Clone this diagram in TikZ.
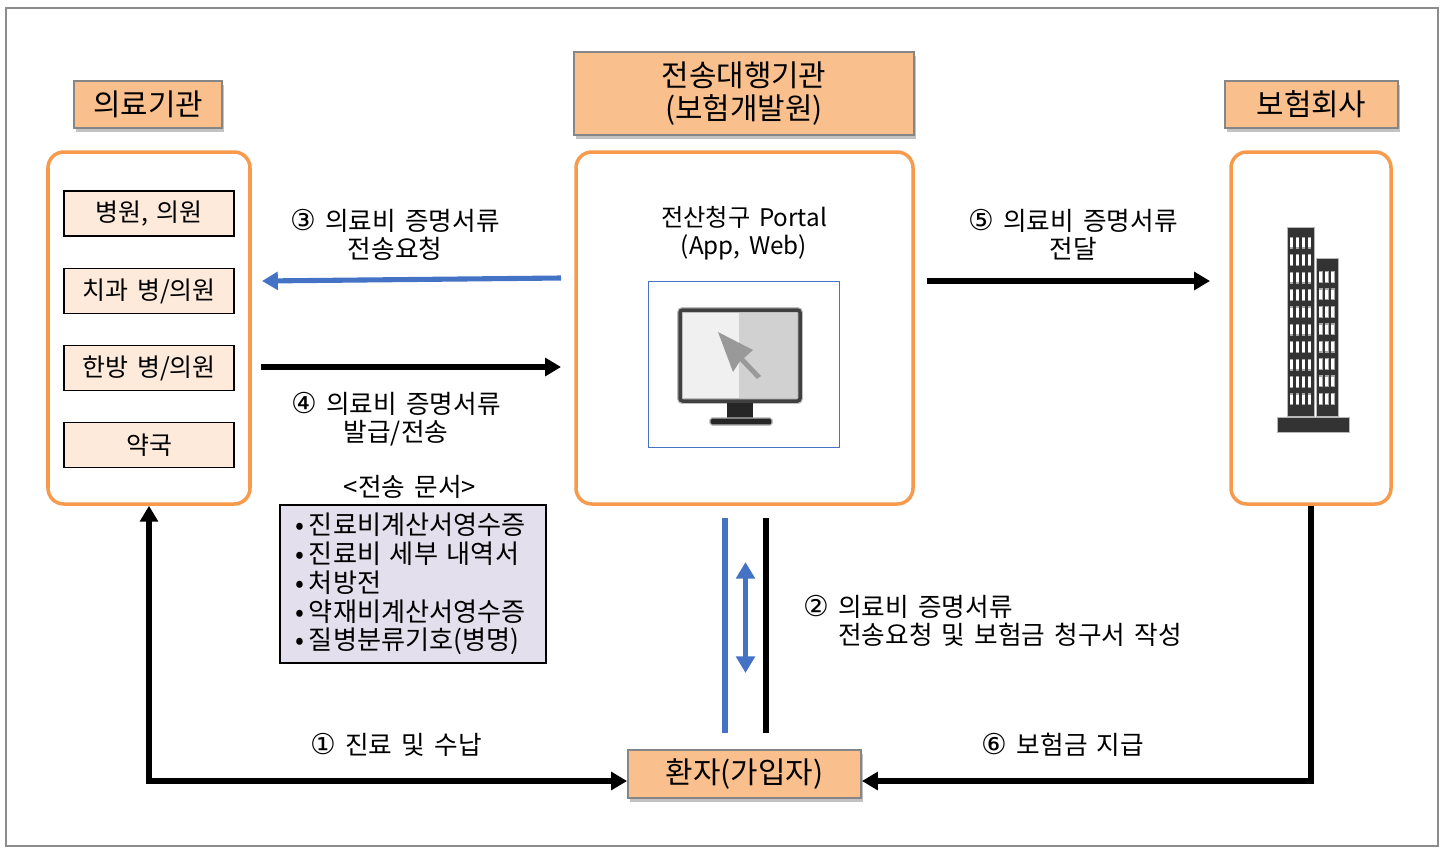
\documentclass[tikz,border=0pt]{standalone}
\usepackage{fontspec}
\setmainfont{Noto Sans CJK KR}[WordSpace=1.6]
\newfontfamily\circfont{DejaVu Sans}[Scale=1.12]
\usepackage{xcolor}
\usetikzlibrary{arrows.meta,calc,shadows,positioning}
\definecolor{headfill}{HTML}{F9C08E}
\definecolor{bandorange}{HTML}{F79A4B}
\definecolor{clinicfill}{HTML}{FDEADA}
\definecolor{docfill}{HTML}{E4DFEC}
\definecolor{flowblue}{HTML}{4472C4}
\newcommand{\stepno}[1]{{\circfont #1}}
\newcommand{\docitem}{•\hspace{2.9pt}}

\begin{document}
\begin{tikzpicture}[
  x=0.02cm, y=-0.02cm,
  head/.style={draw=gray!95, fill=headfill, line width=1.1pt, align=center,
               inner sep=0pt, font=\fontsize{17}{19.6}\selectfont,
               drop shadow={shadow xshift=1.4pt, shadow yshift=-2pt, opacity=0.4, fill=black!60}},
  band/.style={draw=bandorange, fill=white, line width=2pt, rounded corners=9pt,
               inner sep=0pt},
  clinic/.style={draw=black, fill=clinicfill, line width=0.8pt, inner sep=0pt,
                 minimum width=170*0.02cm, minimum height=45*0.02cm,
                 font=\fontsize{14.2}{16}\selectfont},
  note/.style={align=center, inner sep=0pt, font=\fontsize{14.6}{15.9}\selectfont},
  flow/.style={line width=2.9pt, -{Triangle[length=9pt,width=10pt]}},
  pipe/.style={line width=2.9pt},
  >=Stealth
]
\useasboundingbox (0,0) rectangle (1443,853);

% Outer frame
\node[draw=gray!90, line width=0.9pt, minimum width=1432*0.02cm, minimum height=838*0.02cm,
      inner sep=0pt] (frame) at (722,427) {};

% Header labels
\node[head, minimum width=148*0.02cm, minimum height=47*0.02cm] (clinichead) at (148,104.5) {의료기관};
\node[head, minimum width=340*0.02cm, minimum height=83*0.02cm] (agencyhead) at (744,93.5) {\raisebox{-1pt}{전송대행기관}\\(보험개발원)};
\node[head, minimum width=173*0.02cm, minimum height=47*0.02cm] (insurerhead) at (1311.5,104.5) {보험회사};
\node[head, minimum width=233*0.02cm, minimum height=48*0.02cm] (patient) at (744.5,774) {\raisebox{-1pt}{환자(가입자)}};

% Orange panels
\node[band, minimum width=202*0.02cm, minimum height=352*0.02cm] (clinicband) at (149,328) {};
\node[band, minimum width=337*0.02cm, minimum height=352*0.02cm] (portal) at (744.5,328) {};
\node[band, minimum width=160*0.02cm, minimum height=352*0.02cm] (insurer) at (1311,328) {};

% Clinic types
\node[clinic] (hospital) at (149,213.5) {병원, 의원};
\node[clinic] (dental)   at (149,291)   {치과 병/의원};
\node[clinic] (oriental) at (149,368)   {한방 병/의원};
\node[clinic] (pharmacy) at (149,445)   {약국};

% Portal text and picture box
\node[note, font=\fontsize{13.8}{16.2}\selectfont] (portaltext) at (744,233) {전산청구 Portal\\(App, Web)};
\node[draw=flowblue, line width=0.4pt, minimum width=191*0.02cm, minimum height=166*0.02cm,
      inner sep=0pt] (screenbox) at (744,364) {};

% Monitor icon
\fill[black!6]  (680,310) rectangle (739,401);
\fill[black!18] (739,310) rectangle (800,401);
\draw[black!25, line width=3.4pt, rounded corners=1.5pt] (680,310) rectangle (800,401);
\draw[black!75, line width=2pt, rounded corners=1.5pt] (680,310) rectangle (800,401);
\fill[black!85] (727,403) rectangle (753,418);
\draw[black!30, line width=0.6pt, fill=black!85, rounded corners=1pt] (710,418) rectangle (772,425);
\fill[black!40] (718,332) -- (753,350) -- (744,358) -- (761,376) -- (757,379) -- (740,361) -- (733,372) -- cycle;

% Building icon
\foreach \x/\y/\u/\v in {1288/228/1314/416, 1317/259/1338/416, 1278/418/1349/432}{
  \draw[black!80, draw opacity=0.35, line width=0.8pt, fill=black!80] (\x,\y) rectangle (\u,\v);
}
\foreach \row in {0,...,9}{
  \foreach \col in {0,...,3}{
    \fill[black!35] ({1289.6+6*\col},{236.7+17.4*\row}) rectangle ({1293.4+6*\col},{248.7+17.4*\row});
    \fill[white] ({1290.2+6*\col},{238+17.4*\row}) rectangle ({1292.8+6*\col},{247.4+17.4*\row});
  }
}
\foreach \row in {2,...,9}{
  \foreach \col in {0,...,2}{
    \fill[black!35] ({1318.8+6*\col},{236.2+17.4*\row}) rectangle ({1322.6+6*\col},{248.2+17.4*\row});
    \fill[white] ({1319.4+6*\col},{237.5+17.4*\row}) rectangle ({1322+6*\col},{246.9+17.4*\row});
  }
}

% Document list
\node[note] (doctitle) at (410,487) {<전송 문서>};
\node[draw=black, fill=docfill, line width=1.1pt, minimum height=158*0.02cm,
      inner ysep=0pt, inner xsep=15*0.02cm, align=left, text width=236*0.02cm,
      font=\fontsize{14.9}{16.4}\selectfont] (doclist) at (413,584)
  {\docitem 진료비계산서영수증\\\docitem 진료비 세부 내역서\\\docitem 처방전\\\docitem 약재비계산서영수증\\\docitem 질병분류기호(병명)};

% Free ends of the short arrows
\coordinate (askstart) at (561,278);
\coordinate (askend) at (262,281);
\coordinate (sendstart) at (261,367);
\coordinate (sendend) at (561,367);
\coordinate (passstart) at (927,281);
\coordinate (passend) at (1210,281);

\draw[flow, draw=flowblue] (askstart) -- (askend);
\draw[flow] (sendstart) -- (sendend);
\draw[flow] (passstart) -- (passend);

% Between portal and patient
\coordinate (bluetop) at (725,518);
\coordinate (bluebot) at (725,733);
\coordinate (blacktop) at (766,518);
\coordinate (blackbot) at (766,733);
\coordinate (swaptop) at (745.5,562);
\coordinate (swapbot) at (745.5,673);
\draw[pipe, draw=flowblue] (bluetop) -- (bluebot);
\draw[pipe] (blacktop) -- (blackbot);
\draw[line width=2.9pt, draw=flowblue, {Triangle[length=9.5pt,width=10.5pt]}-{Triangle[length=9.5pt,width=10.5pt]}] (swaptop) -- (swapbot);

% Long paths to the patient
\draw[flow, {Triangle[length=9pt,width=10pt]}-{Triangle[length=9pt,width=10pt]}]
  (clinicband.south) |- ($(patient.west)+(0,7)$);
\draw[flow] (insurer.south) |- ($(patient.east)+(0,7)$);

% Step labels
\node[note] (stepthree) at (395,235) {\stepno{③} 의료비 증명서류\\전송요청};
\node[note] (stepfour)  at (396,419.5) {\stepno{④} 의료비 증명서류\\발급/전송};
\node[note] (stepfive)  at (1073,235) {\stepno{⑤} 의료비 증명서류\\전달};
\node[note, align=left, anchor=west] (steptwo) at (803,621) {\stepno{②} 의료비 증명서류\\\hspace*{19.9pt}전송요청 및 보험금 청구서 작성};
\node[note] (stepone) at (396,745) {\stepno{①} 진료 및 수납};
\node[note] (stepsix) at (1063,745) {\stepno{⑥} 보험금 지급};

\end{tikzpicture}
\end{document}
